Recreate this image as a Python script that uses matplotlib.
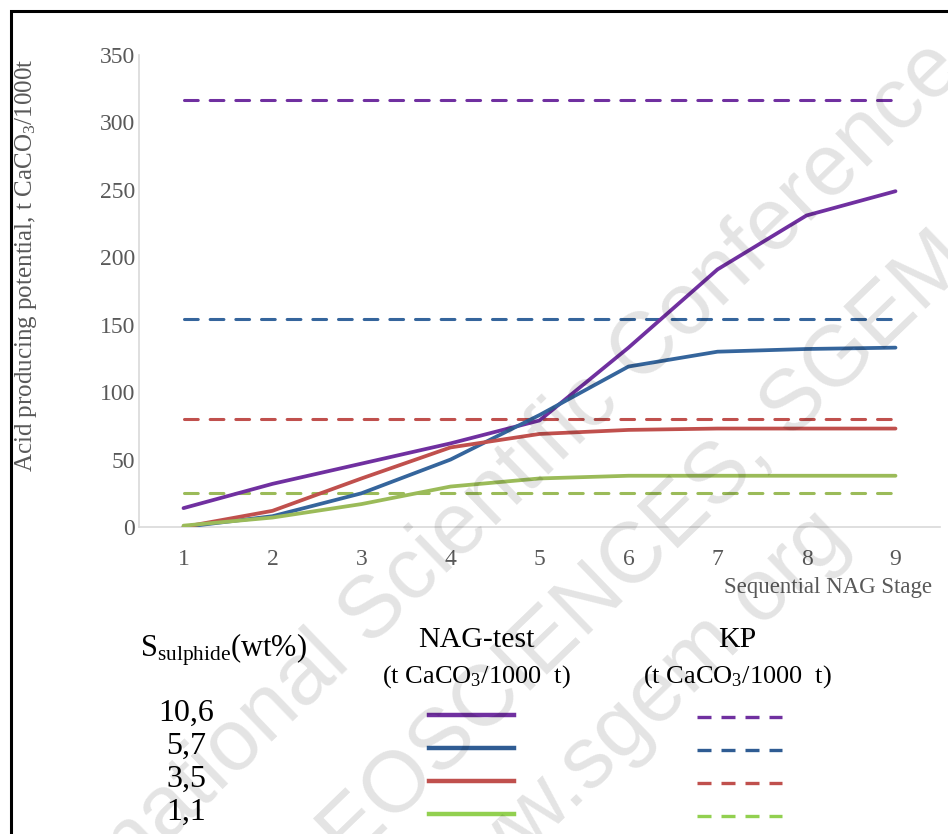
import matplotlib
matplotlib.use("Agg")
import matplotlib.pyplot as plt
from matplotlib.lines import Line2D
from matplotlib.patches import Rectangle

plt.rcParams['font.family'] = ['Liberation Serif', 'DejaVu Serif']
plt.rcParams['mathtext.fontset'] = 'custom'
plt.rcParams['mathtext.rm'] = 'Liberation Serif'
plt.rcParams['mathtext.it'] = 'Liberation Serif:italic'

# ---- data ----
stages = [1, 2, 3, 4, 5, 6, 7, 8, 9]
sulphide_labels = ["10,6", "5,7", "3,5", "1,1"]
nag_106 = [14, 32, 47, 62, 79, 133, 191, 231, 249]
nag_57 = [0, 8, 25, 50, 83, 119, 130, 132, 133]
nag_35 = [0, 12, 36, 59, 69, 72, 73, 73, 73]
nag_11 = [1, 7, 17, 30, 36, 38, 38, 38, 38]
kp_values = [317, 154, 80, 25]
y_ticks = [0, 50, 100, 150, 200, 250, 300, 350]

colors = ["#7030A0", "#35659C", "#C0504D", "#9BBB59"]
legend_colors = ["#7030A0", "#2F5C93", "#C0504D", "#92D050"]
nag_series = [nag_106, nag_57, nag_35, nag_11]

W, H = 948, 834
fig = plt.figure(figsize=(W / 100, H / 100), dpi=100)

def fx(px):
    return px / W

def fy(py):
    return 1 - py / H

ax = fig.add_axes([fx(139), fy(527), fx(940) - fx(139), fy(55) - fy(527)])
ax.set_xlim(0.5, 9.5)
ax.set_ylim(0, 350)

for vals, c in zip(nag_series, colors):
    ax.plot(stages, vals, color=c, lw=2.7, solid_capstyle='round', zorder=3)
for kp, c in zip(kp_values, colors):
    ax.plot([stages[0], stages[-1]], [kp, kp], color=c, lw=2.2,
            dashes=(4.5, 3.9), dash_capstyle='round', zorder=2)

ax.set_xticks(stages)
ax.set_yticks(y_ticks)
ax.tick_params(length=0, labelsize=17, colors='#595959')
ax.tick_params(axis='x', pad=16)
ax.tick_params(axis='y', pad=3)
for s in ['top', 'right']:
    ax.spines[s].set_visible(False)
ax.spines['left'].set_color('#d9d9d9')
ax.spines['bottom'].set_color('#d9d9d9')
ax.spines['left'].set_linewidth(1.2)
ax.spines['bottom'].set_linewidth(1.2)

fig.text(fx(26), fy(265), r"Acid producing potential, t CaCO$_3$/1000t",
         rotation=90, ha='center', va='center', fontsize=18, color='#595959')
fig.text(fx(932), fy(588), "Sequential NAG Stage", ha='right', va='center',
         fontsize=16.5, color='#595959')

# ---- custom legend ----
fig.text(fx(140), fy(650), r"S$_{\rm sulphide}$(wt%)", ha='left', va='center',
         fontsize=22, color='black')
fig.text(fx(476), fy(640), "NAG-test", ha='center', va='center', fontsize=21.5)
fig.text(fx(476), fy(677), r"(t CaCO$_3$/1000  t)", ha='center', va='center', fontsize=19)
fig.text(fx(737), fy(640), "KP", ha='center', va='center', fontsize=21.5)
fig.text(fx(737), fy(677), r"(t CaCO$_3$/1000  t)", ha='center', va='center', fontsize=19)

row_y = [715, 748, 781, 814]
for lab, c, py in zip(sulphide_labels, legend_colors, row_y):
    fig.text(fx(186), fy(py - 2), lab, ha='center', va='center', fontsize=23)
    fig.add_artist(Line2D([fx(429), fx(514)], [fy(py), fy(py)], color=c, lw=3.2,
                          transform=fig.transFigure))
    fig.add_artist(Line2D([fx(697), fx(782)], [fy(py + 2), fy(py + 2)], color=c, lw=2.4,
                          dashes=(4.2, 3.0), transform=fig.transFigure))

# ---- watermark ----
wm = dict(ha='center', va='center', rotation=44, rotation_mode='anchor',
          color='black', alpha=0.11, family=['Liberation Sans', 'DejaVu Sans'], zorder=10)
fig.text(fx(470), fy(520), "International Scientific Conference", fontsize=63, **wm)
fig.text(fx(622), fy(572), "GEOSCIENCES, SGEM", fontsize=62, **wm)
fig.text(fx(630), fy(724), "www.sgem.org", fontsize=63, **wm)

# ---- frame ----
fig.add_artist(Rectangle((fx(10.5), -0.05), 1.1, fy(10.5) + 0.05, fill=False,
                         edgecolor='black', lw=2.2, transform=fig.transFigure))

fig.savefig("out.png", dpi=100)
